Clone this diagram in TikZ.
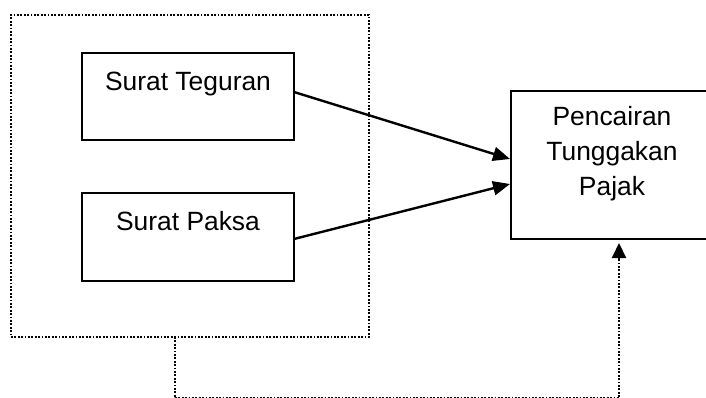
\documentclass[tikz,border=0pt]{standalone}
\usepackage{fontspec}
\setmainfont{Liberation Sans}
\usetikzlibrary{arrows.meta}
\begin{document}
\begin{tikzpicture}[x=1pt,y=-1pt,
  box/.style={draw=black,line width=2.2pt,rectangle,inner sep=0pt},
  lbl/.style={anchor=base,inner sep=0pt,font=\fontsize{26.4}{35}\selectfont},
  dots/.style={draw=black,line width=2pt,dash pattern=on 1.8pt off 1.6pt},
  flow/.style={draw=black,line width=2.4pt,-{Triangle[length=17pt,width=14pt]}},
  feed/.style={dots,-{Triangle[length=15pt,width=14pt]}}]
  \useasboundingbox (0,0) rectangle (706,398);
  % grouping frame around the two letters
  \node[dots,rectangle,inner sep=0pt,minimum width=358pt,minimum height=322pt] (outer) at (190,176) {};
  % the two letters
  \node[box,minimum width=212pt,minimum height=87pt] (teg) at (188,96.5) {};
  \node[box,minimum width=212pt,minimum height=88pt] (pak) at (188,237) {};
  \node[lbl] (tegt) at (188,90.7) {Surat Teguran};
  \node[lbl] (pakt) at (188,230) {Surat Paksa};
  % outcome
  \node[box,minimum width=202pt,minimum height=148pt] (pen) at (612,165) {};
  \node[lbl,align=center,anchor=north] (pent) at (612,106) {Pencairan\\Tunggakan\\Pajak};
  % connectors
  \coordinate (tegout) at (294,92);
  \coordinate (pakout) at (294,239);
  \coordinate (penin1) at (510,159);
  \coordinate (penin2) at (510,184);
  \draw[flow] (tegout) -- (penin1);
  \draw[flow] (pakout) -- (penin2);
  % feedback from the frame to the outcome
  \coordinate (fbstart) at (175,337);
  \coordinate (fbend) at (619,243);
  \draw[feed] (fbstart) -- (175,398.3) -- (619,398.3) -- (fbend);
\end{tikzpicture}
\end{document}
